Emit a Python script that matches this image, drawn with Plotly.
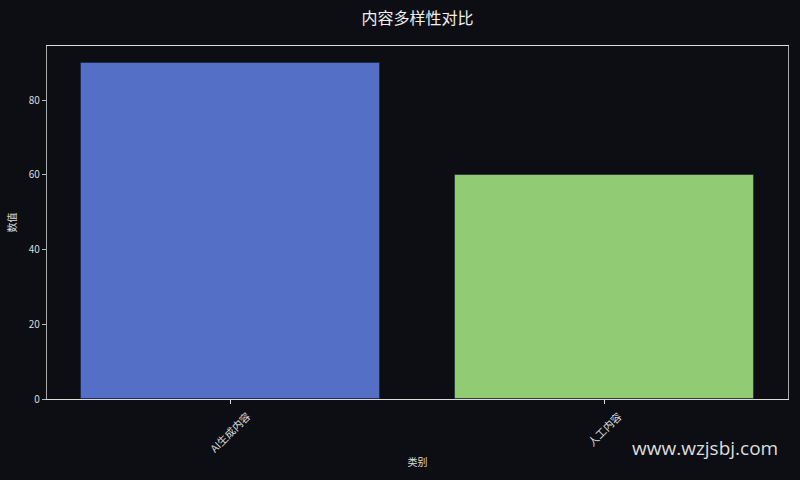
import plotly.graph_objects as go

# chart data
categories = ["AI生成内容", "人工内容"]
values = [90, 60]
bar_colors = ["#5470c6", "#91cc75"]

title_text = "内容多样性对比"
x_title = "类别"
y_title = "数值"
watermark = "www.wzjsbj.com"

bg = "#0c0e14"
font_family = "Noto Sans CJK SC, Noto Sans, sans-serif"
label_color = "#dcdcdc"

xs = list(range(len(categories)))

fig = go.Figure()
fig.add_trace(go.Bar(
    x=xs,
    y=values,
    width=0.8,
    marker=dict(color=bar_colors, line=dict(color="rgba(20,30,60,0.6)", width=1)),
    showlegend=False,
))

fig.update_layout(
    width=800, height=480,
    paper_bgcolor=bg, plot_bgcolor=bg,
    margin=dict(l=47, r=12, t=46, b=81),
    font=dict(family=font_family, color=label_color, size=10),
    title=dict(text=title_text, x=0.5, xref="paper", y=0.962, yanchor="middle",
               font=dict(size=16, color="#f0f0f0")),
    bargap=0,
)

# tick labels drawn as rotated annotations so they centre on the tick
fig.update_xaxes(
    range=[-0.49, 1.49],
    tickmode="array", tickvals=xs, ticktext=["" for _ in categories],
    ticks="outside", ticklen=4, tickcolor="#dddddd",
    showgrid=False, zeroline=False,
    showline=True, linecolor="#dddddd", linewidth=1.2, mirror=True,
    title=dict(text=x_title, font=dict(size=10, color=label_color), standoff=53),
)
fig.update_yaxes(
    range=[0, 94.5],
    tickvals=[0, 20, 40, 60, 80],
    ticks="outside", ticklen=4, tickcolor="#bbbbbb",
    showgrid=False, zeroline=False,
    showline=True, linecolor="#aaaaaa", linewidth=1.2, mirror=True,
    tickfont=dict(size=10, color=label_color),
    title=dict(text=y_title, font=dict(size=10, color=label_color), standoff=10),
)

for x, label in zip(xs, categories):
    fig.add_annotation(
        text=label, x=x, xref="x", y=0, yref="paper",
        xanchor="center", yanchor="top", yshift=-6,
        textangle=-45, showarrow=False,
        font=dict(size=10.5, color=label_color),
    )

fig.add_annotation(
    text=watermark, xref="paper", yref="paper", x=0.989, y=-0.139,
    xanchor="right", yanchor="middle", showarrow=False,
    font=dict(size=19, color="#dddddd", family="Open Sans, Noto Sans, sans-serif"),
)

# drop the default page margin so the figure sits at the window's corner
fig.write_html("out.html", config={"displayModeBar": False},
               post_script="document.body.style.margin='0';document.body.style.background='%s';" % bg)
